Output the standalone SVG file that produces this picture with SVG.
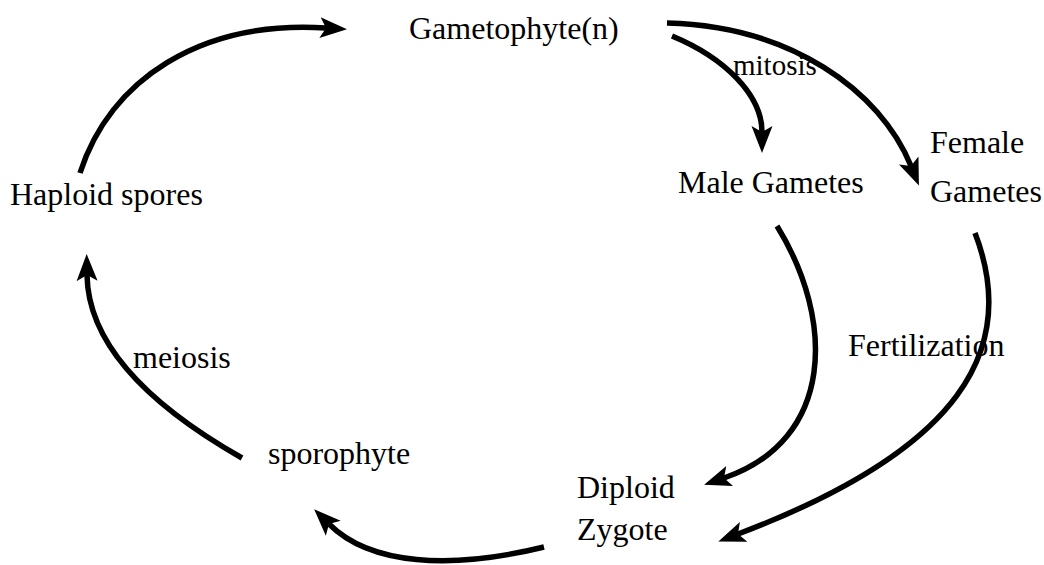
<svg xmlns="http://www.w3.org/2000/svg" width="1044" height="565" viewBox="0 0 1044 565">
<defs>
<style>
.lbl{font-family:"Liberation Serif","Times New Roman",serif;font-size:32px;fill:#000}
.sm{font-size:29px}
.edge{fill:none;stroke:#000;stroke-width:5.5;marker-end:url(#ah)}
</style>
<marker id="ah" markerUnits="userSpaceOnUse" markerWidth="30" markerHeight="24" viewBox="0 -12 30 24" refX="6" refY="0" orient="auto">
<path d="M27,0 L0,-10.5 L6,0 L0,10.5 Z" fill="#000"/>
</marker>
</defs>
<rect width="1044" height="565" fill="#fff"/>
<g id="connectors">
<path class="edge" d="M80,173 C110,80 200,20 326,28"/>
<path class="edge" d="M672,36 C725,58 762,95 762,132"/>
<path class="edge" d="M667,23 C790,26 880,90 911,166"/>
<path class="edge" d="M777,226 C835,320 835,440 724,478"/>
<path class="edge" d="M975,233 C1020,350 960,450 738,534"/>
<path class="edge" d="M544,547 C450,570 370,565 329,524"/>
<path class="edge" d="M242,458 C140,400 88,340 87,275"/>
</g>
<g id="gametophyte"><text class="lbl" x="409" y="39">Gametophyte(n)</text></g>
<g id="haploid-spores"><text class="lbl" x="10" y="205">Haploid spores</text></g>
<g id="male-gametes"><text class="lbl" x="678" y="193">Male Gametes</text></g>
<g id="female-gametes"><text class="lbl" x="930" y="153">Female</text><text class="lbl" x="930" y="202">Gametes</text></g>
<g id="diploid-zygote"><text class="lbl" x="577" y="498">Diploid</text><text class="lbl" x="577" y="540">Zygote</text></g>
<g id="sporophyte"><text class="lbl" x="268" y="464">sporophyte</text></g>
<g id="labels">
<text class="lbl sm" x="733" y="75">mitosis</text>
<text class="lbl" x="133" y="368">meiosis</text>
<text class="lbl" x="848" y="356">Fertilization</text>
</g>
</svg>
